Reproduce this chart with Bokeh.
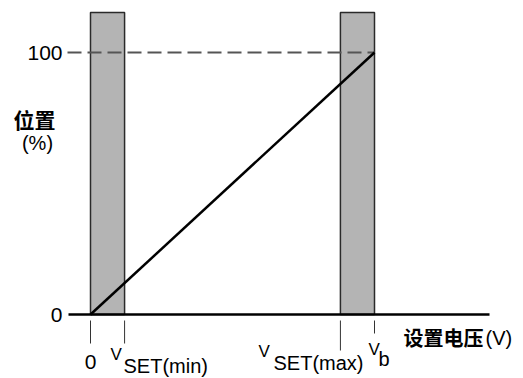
from bokeh.plotting import figure
from bokeh.models import Range1d
from bokeh.core.properties import value
from bokeh.embed import file_html
from bokeh.resources import INLINE

# ---- data ----
x_tick_values = [0.0, 1.2, 8.8, 10.0]          # 0, VSET(min), VSET(max), Vb
x_tick_main = ["0", "V", "V", "V"]
x_tick_sub = ["", "SET(min)", "SET(max)", "b"]
y_tick_values = [0, 100]
y_tick_labels = ["0", "100"]
band_left = [0.0, 8.8]
band_right = [1.2, 10.0]
line_x = [0.0, 10.0]
line_y = [0, 100]
y_title = ["位置", "(%)"]
x_title = ["设置电压", "(V)"]

# ---- geometry ----
W, H = 523, 378
OX, OY = 90, 314        # pixel position of data origin
XPX = 28.4              # pixels per x unit
YPX = 2.62              # pixels per y unit
SANS = value("Liberation Sans")
CJK = value("Noto Sans CJK SC")

def X(px):
    return (px - OX) / XPX

def Y(py):
    return (OY - py) / YPX

p = figure(width=W, height=H,
           x_range=Range1d(X(0), X(W)),
           y_range=Range1d(Y(H), Y(0)),
           output_backend="svg", toolbar_location=None, min_border=0,
           x_axis_location=None, y_axis_location=None)
p.grid.visible = False
p.outline_line_color = None
p.background_fill_color = "white"
p.border_fill_color = "white"

# gray bands
p.quad(left=band_left, right=band_right, bottom=0, top=Y(12),
       fill_color="#b4b4b4", line_color="#2a2a2a", line_width=1.5)

# dashed 100% reference line
p.line([X(67), line_x[1]], [y_tick_values[1], y_tick_values[1]],
       line_color="#555555", line_width=2, line_dash="14 6")

# x axis line
p.line([X(68), X(489)], [0, 0], line_color="black", line_width=2.5)

# main line
p.line(line_x, line_y, line_color="black", line_width=2.5)

# ticks below axis
tick_end = [343, 343, 350, 333]
p.segment(x0=x_tick_values, y0=[Y(320)] * 4, x1=x_tick_values,
          y1=[Y(e) for e in tick_end], line_color="#333333", line_width=1)

# y tick labels
p.text(x=[X(62)] * 2, y=y_tick_values, text=y_tick_labels,
       text_align="right", text_baseline="middle",
       text_font=SANS, text_font_size="21px", text_color="black")

# x tick labels
p.text(x=[x_tick_values[0]], y=[Y(361)], text=[x_tick_main[0]],
       text_align="center", text_baseline="middle",
       text_font=SANS, text_font_size="21px", text_color="black")
p.text(x=[X(110), X(258), X(368)], y=[Y(354), Y(351), Y(349)],
       text=x_tick_main[1:],
       text_align="left", text_baseline="middle",
       text_font=SANS, text_font_size="17px", text_color="black")
p.text(x=[X(123), X(273), X(378)], y=[Y(365), Y(362), Y(358)],
       text=x_tick_sub[1:],
       text_align="left", text_baseline="middle",
       text_font=SANS, text_font_size="20px", text_color="black")

# y title
p.text(x=[X(13)], y=[Y(118)], text=[y_title[0]],
       text_align="left", text_baseline="middle",
       text_font=CJK, text_font_size="21px", text_font_style="bold",
       text_color="black")
p.text(x=[X(37)], y=[Y(142)], text=[y_title[1]],
       text_align="center", text_baseline="middle",
       text_font=SANS, text_font_size="20px", text_color="black")

# x title
p.text(x=[X(403)], y=[Y(337)], text=[x_title[0]],
       text_align="left", text_baseline="middle",
       text_font=CJK, text_font_size="20px", text_font_style="bold",
       text_color="black")
p.text(x=[X(485)], y=[Y(337)], text=[x_title[1]],
       text_align="left", text_baseline="middle",
       text_font=SANS, text_font_size="20px", text_color="black")

open("out.html", "w").write(file_html(p, INLINE))
